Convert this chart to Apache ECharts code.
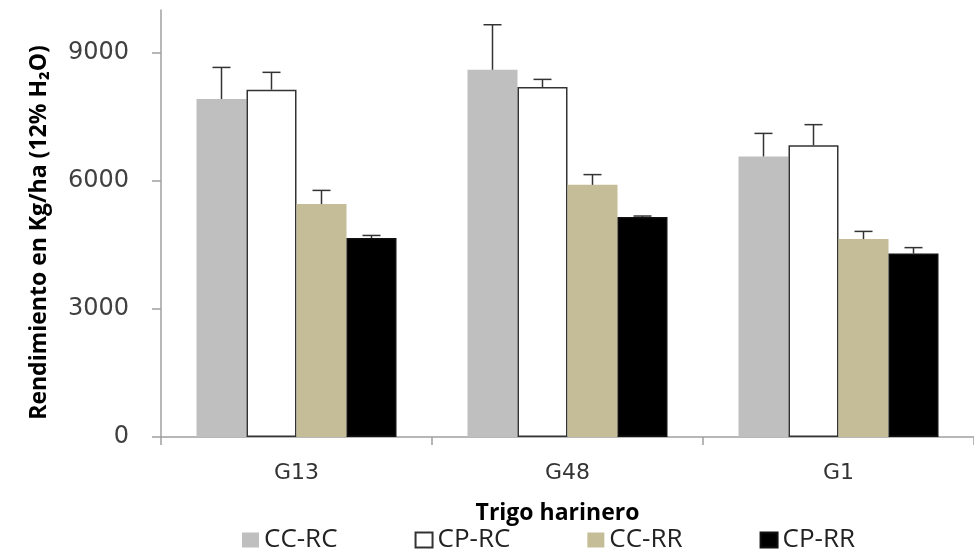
<!DOCTYPE html>
<html><head><meta charset="utf-8">
<script src="https://cdn.jsdelivr.net/npm/echarts@6/dist/echarts.min.js"></script>
<style>html,body{margin:0;padding:0;background:#fff}#c{width:974px;height:552px}</style>
</head><body><div id="c"></div>
<script>
const categories = ['G13', 'G48', 'G1'];
const seriesNames = ['CC-RC', 'CP-RC', 'CC-RR', 'CP-RR'];
const ccrc = [7915, 8600, 6570];
const cprc = [8135, 8195, 6830];
const ccrr = [5455, 5905, 4635];
const cprr = [4660, 5150, 4295];
const ccrcErr = [740, 1055, 540];
const cprcErr = [405, 180, 485];
const ccrrErr = [320, 240, 180];
const cprrErr = [60, 25, 140];
const yTicks = [0, 3000, 6000, 9000];

const values = [ccrc, cprc, ccrr, cprr];
const errs = [ccrcErr, cprcErr, ccrrErr, cprrErr];
const colors = ['#bfbfbf', '#ffffff', '#c4bd97', '#000000'];
const borders = [null, '#333333', null, '#111111'];
const BW = 50;
const font = '"Open Sans", "Noto Sans", sans-serif';
const font2 = '"DejaVu Sans", Verdana, sans-serif';

const chart = echarts.init(document.getElementById('c'));
const series = [];
values.forEach((v, i) => {
  series.push({
    name: seriesNames[i], type: 'bar', data: v, barWidth: BW, barGap: '0%',
    itemStyle: { color: colors[i], borderColor: borders[i] || colors[i], borderWidth: borders[i] ? 1.5 : 0 },
    z: 2
  });
});
values.forEach((v, i) => {
  series.push({
    type: 'custom', z: 5, silent: true,
    data: v.map((val, k) => [k, val, val + errs[i][k]]),
    renderItem: function (params, api) {
      const base = api.coord([api.value(0), api.value(1)]);
      const top = api.coord([api.value(0), api.value(2)]);
      const x = base[0] + (i - 1.5) * BW;
      const half = 9;
      const st = { stroke: '#333', lineWidth: 1.5 };
      return { type: 'group', children: [
        { type: 'line', shape: { x1: x, y1: base[1], x2: x, y2: top[1] }, style: st },
        { type: 'line', shape: { x1: x - half, y1: top[1], x2: x + half, y2: top[1] }, style: st }
      ]};
    }
  });
});

chart.setOption({
  animation: false,
  textStyle: { fontFamily: font },
  grid: { left: 161, top: 10, bottom: 115, width: 822 },
  legend: {
    data: seriesNames, left: 237, top: 522, icon: 'rect', itemWidth: 17, itemHeight: 15,
    itemGap: 77, textStyle: { fontSize: 26, color: '#222', fontFamily: font }
  },
  xAxis: {
    type: 'category', data: categories,
    name: 'Trigo harinero', nameLocation: 'middle', nameGap: 65,
    nameTextStyle: { fontSize: 23, fontWeight: 'bold', color: '#000', fontFamily: font, padding: [0, 20, 0, 0] },
    axisLine: { lineStyle: { color: '#a0a0a0', width: 1.5 } },
    axisTick: { show: true, length: 8, lineStyle: { color: '#a0a0a0', width: 1.5 } },
    axisLabel: { fontSize: 22, color: '#333', margin: 25, fontFamily: font2 }
  },
  yAxis: {
    type: 'value', min: 0, max: 10000, interval: 1000,
    name: 'Rendimiento en Kg/ha (12% H₂O)', nameLocation: 'middle', nameGap: 110, nameRotate: 90,
    nameTextStyle: { fontSize: 23, fontWeight: 'bold', color: '#000', fontFamily: font, padding: [0, 18, 0, 0] },
    splitLine: { show: false },
    axisLine: { show: true, lineStyle: { color: '#a0a0a0', width: 1.5 } },
    axisTick: { show: true, length: 9, customValues: yTicks, lineStyle: { color: '#a0a0a0', width: 1.5 } },
    axisLabel: { customValues: yTicks, fontSize: 24, color: '#404040', margin: 32, fontFamily: font2,
      formatter: v => String(v) }
  },
  series: series
});
</script></body></html>
